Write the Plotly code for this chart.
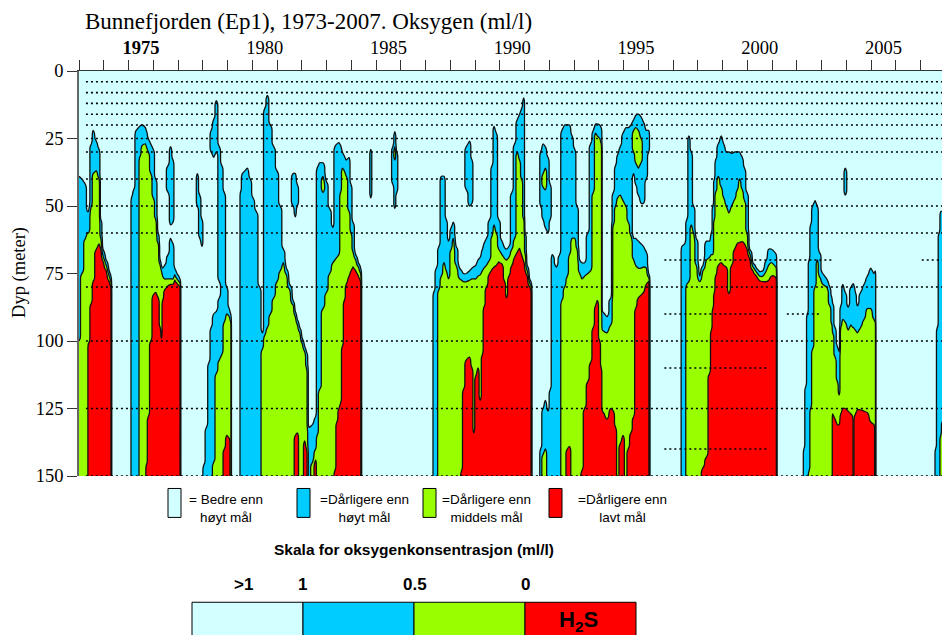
import numpy as np
import plotly.graph_objects as go

N = None

# ---- sampling columns (decimal year) and depth (m) where O2 crosses 1, 0.5 and 0 ml/l ----
T = [
    # 1973-74
    1973.00, 1973.12, 1973.26, 1973.34, 1973.38, 1973.50, 1973.57, 1973.70, 1973.81, 1973.88, 1973.97, 1974.10, 1974.22, 1974.29, 1974.33,
    # 1975-77
    1975.08, 1975.12, 1975.21, 1975.31, 1975.40, 1975.45, 1975.56, 1975.68, 1975.72, 1975.80, 1975.90, 1976.00, 1976.10, 1976.20, 1976.28,
    1976.33, 1976.38, 1976.46, 1976.60, 1976.70, 1976.80, 1976.87, 1976.96, 1977.08, 1977.12,
    # 1977-79
    1977.70, 1977.78, 1977.88, 1977.97, 1978.04, 1978.15, 1978.25, 1978.34, 1978.44, 1978.55, 1978.67, 1978.77, 1978.87, 1978.97, 1979.07,
    1979.13, 1979.17,
    # 1979-82
    1979.49, 1979.52, 1979.60, 1979.70, 1979.80, 1979.92, 1980.03, 1980.16, 1980.30, 1980.41, 1980.50, 1980.61, 1980.73, 1980.87, 1981.00,
    1981.13, 1981.26, 1981.38, 1981.51, 1981.65, 1981.74, 1981.82, 1981.92, 1982.02, 1982.12, 1982.19, 1982.29, 1982.43, 1982.56,
    # 1982-84
    1982.62, 1982.72, 1982.86, 1983.00, 1983.13, 1983.26, 1983.34, 1983.42, 1983.50, 1983.57, 1983.64, 1983.72, 1983.80, 1983.91, 1983.99,
    1984.07, 1984.18, 1984.29, 1984.38, 1984.43,
    # 1984-86
    1984.71, 1984.79, 1984.87, 1985.58, 1985.68, 1985.76, 1985.84, 1985.92,
    # 1987-91
    1987.275, 1987.33, 1987.44, 1987.54, 1987.64, 1987.75, 1987.84, 1987.93, 1988.04, 1988.12, 1988.24, 1988.38, 1988.46, 1988.53, 1988.65,
    1988.78, 1988.88, 1988.95, 1989.03, 1989.12, 1989.21, 1989.30, 1989.36, 1989.46, 1989.59, 1989.69, 1989.77, 1989.86, 1989.96, 1990.09,
    1990.20, 1990.27, 1990.37, 1990.49, 1990.60, 1990.71, 1990.80, 1990.88, 1990.97, 1991.03, 1991.11, 1991.21, 1991.26, 1991.31,
    # 1991-96
    1991.585, 1991.65, 1991.75, 1991.84, 1991.95, 1992.04, 1992.12, 1992.29, 1992.42, 1992.51, 1992.62, 1992.73, 1992.82, 1992.92, 1993.03,
    1993.12, 1993.23, 1993.32, 1993.43, 1993.56, 1993.67, 1993.78, 1993.87, 1993.94, 1994.04, 1994.10, 1994.15, 1994.33, 1994.49, 1994.59,
    1994.68, 1994.76, 1994.87, 1994.98, 1995.09, 1995.19, 1995.30, 1995.41, 1995.49, 1995.60, 1995.71, 1995.81, 1995.92, 1996.02, 1996.08,
    # 1997-2001
    1997.295, 1997.36, 1997.47, 1997.56, 1997.64, 1997.74, 1997.83, 1997.94, 1998.08, 1998.21, 1998.35, 1998.48, 1998.55, 1998.61, 1998.67,
    1998.72, 1998.83, 1998.95, 1999.05, 1999.15, 1999.26, 1999.37, 1999.49, 1999.60, 1999.69, 1999.80, 1999.89, 1999.99, 2000.10, 2000.23,
    2000.37, 2000.50, 2000.63, 2000.77, 2000.86, 2000.97, 2001.10, 2001.17, 2001.21,
    # 2002-05
    2002.24, 2002.29, 2002.36, 2002.43, 2002.50, 2002.56, 2002.64, 2002.74, 2002.83, 2002.91, 2003.05, 2003.21, 2003.34, 2003.42, 2003.45,
    2003.55, 2003.64, 2003.71, 2003.78, 2003.86, 2003.96, 2004.08, 2004.19, 2004.26, 2004.29, 2004.33, 2004.37, 2004.45, 2004.58, 2004.72,
    2004.85, 2004.99, 2005.12, 2005.17, 2005.21,
    # 2007
    2007.56, 2007.61, 2007.68, 2007.75, 2007.82, 2007.87,
]

D1 = [  # top of the "< 1 ml/l" layer
    39, 40, 42, 52, 52, 27, 22, 26, 29, 55, 66, 70, 74, 76, N,
    N, 47, 44, 22, 21, 20.5, 20, 21, 22, 25, 27, 29, 40, 60, 70,
    72, 73, 72, 68, 62, 64, 73, 75, 77, N,
    N, N, N, N, 146, 132, 108, 95, 90, 89, 84, 35, 45, 80, 88,
    90, N,
    N, 45, 38, 37, 36, 40, 47, 52, 80, 97, 14, 9, 20, 28, 37,
    50, 66, 73, 79, 85, 89, 92, 95, 99, 102, 104, 132, 131, 128,
    36, 34, 34, 41, 51, 58, 28, 27, 26.5, 27.5, 30, 31.5, 33, 32, 42,
    56, 68, 71, 73, N,
    N, N, N, N, N, N, N, N,
    N, 82, 73, 65, 39, 39, 55, 63, 58, 56, 65, 73, 74, 75, 75,
    74, 73, 72.5, 72, 70, 69, 66, 64, 62, 55, 35, 20.5, 23, 55, 63,
    65.5, 66, 65, 45, 27, 18, 16, 14, 10, 60, 72, 77, 78, N,
    N, 140, 125, 122, 126, 118, 68, 72.6, 68, 22, 20, 20, 20, 24, 29,
    50, 70, 71, 71, 60, 27, 22, 19.6, 19.6, 20, 21, 89, 91, 84, 45,
    35, 31, 28, 23, 21, 21, 20, 62, 62, 63, 64, 65, 67, 75, N,
    N, 65, 64, 55, 24, 30, 50, 62, 76, 72, 63, 63, 60, 50, 40,
    33, 27, 24, 27, 30, 30, 30.5, 30, 30, 30, 32, 36, 45, 66, 71,
    73, 74.5, 74, 70, 66, 66, 67, 68, N,
    N, 140, 117, 90, 70, 57, 50, 48, 50, 67, 75, 77, 80, 84, 86,
    95, 102, 104, 87, 79, 82, 87.5, 80, 79, 78.8, 80, 82, 87, 82, 79,
    76, 73, 75, 74, N,
    N, 140, 95, 60, 52, 52,
]

D05 = [  # top of the "< 0.5 ml/l" layer
    100, 75, 62, 60, 60, 50, 38, 37, 40, 62, 68.5, 72, 76, 78, N,
    N, N, N, N, N, 32, 27.5, 27, 28, 30, 38, 47, 55, 64, 72,
    74, 76, 77, 77, 77, 77, 75.5, 77, 78.5, N,
    N, N, N, N, N, N, N, N, 145, 112, 107, 105, 93, 90, 91,
    93, N,
    N, N, N, N, N, N, N, N, N, 103, 98, 95, 90, 84, 78,
    74, 71, 75.5, 81, 86.5, 91, 94, 97, 101, 104, 110, N, 145, 140,
    135, 118, 88, 82, 75, 71, 70, 69, 68, 45, 36, 37, 39, 52, 60,
    67, 70, 72.5, 75, N,
    N, N, N, N, N, N, N, N,
    N, N, N, 81, 76, 71, 74, 77, 66, 62, 72, 77, 77.5, 78, 78,
    77.5, 77, 77, 77, 76, 75.5, 74, 73, 72, 70, 61, 57, 60, 66, 68,
    69.5, 70, 69, 66, 62, 30, 33, 40, 55, 68, 74, 78.5, 79.5, N,
    N, N, 142, 140, N, N, N, N, N, 85, 80, 76, 68, 62, 62,
    66, 75, 77, 76, 75, 74, 45, 23, 24, 25, 27, 96, 97, 94, 57,
    50, 47, 46, 48, 50, 56, 61, 70, 72, 73, 73, 72.6, 73, 76.5, N,
    N, N, N, 79, 78, 57, 60, 72, 78, 74, 70, 69, 68, 68, 55,
    45, 39, 43, 47, 50, 52.6, 50, 47.6, 44, 40, 44, 48, 60, 67.5, 72.5,
    74.5, 76, 76, 74, 72, 71, 72, 73, N,
    N, N, N, N, 148, 125, 103, 80, 70, 76, 79, 80, 87, 94, 97,
    106, 115, 120, 95, 92, 93, 96, 94, 95, 95, 95.5, 96, 97, 95, 92,
    88, 88, 92, 93, N,
    N, N, N, N, 135, 130,
]

D0 = [  # top of the H2S layer
    N, N, N, N, 101, 86, 78, 66, 64, 66, 70.5, 74, 78, 80, N,
    N, N, N, N, N, N, N, N, 146, 128, 100, 83, 82, 84, 95,
    99, 85, 81, 79.5, 79, 79, 77.5, 78.5, 80, N,
    N, N, N, N, N, N, N, N, N, N, N, N, 140, 135, 136,
    N, N,
    N, N, N, N, N, N, N, N, N, N, N, N, N, N, N,
    N, N, N, N, N, 135, 134, N, N, 137, 140, N, N, 144,
    N, N, N, N, N, N, 148, 130, 125, 123, 102, 85, 79, 76, 74,
    72.6, 74, 76, 78, N,
    N, N, N, N, N, N, N, N,
    N, N, N, N, N, N, N, N, N, N, N, N, 148, 118, 107,
    106, 110, 134, 113, 110, 122, 105, 87.5, 80, 75, 73.5, 72.6, 72, 70.7, 71.5,
    78, 84, 76, 72, 69, 67, 65.7, 68, 70.5, 74, 76, 80, 81, N,
    N, N, N, N, N, N, N, N, N, N, N, 140, 139, N, N,
    N, N, 148, 125, 115, 108, 95, 87, 85, 100, 110, 126, 129, 125, 126,
    132, N, 138, 135, N, 140, 134, 128, 88, 84, 83, 82, 79, 78, N,
    N, N, N, N, N, N, N, N, N, 147, 143, 112, 96, 88, 82,
    76, 72, 71, 72, 72.6, 82.5, 72, 66, 63.8, 63.5, 63.2, 64, 66, 69.5, 74,
    76, 77.5, 78, 78, 77.6, 76, 76, 77, N,
    N, N, N, N, N, N, N, N, N, N, N, N, N, N, 127,
    129, 131, 131, 127, 125, 125, 126, 127, 128, N, 128, 127, 125.5, 125.5, 126,
    126.5, 130, 131, N, N,
    N, N, N, N, N, N,
]

# isolated low-oxygen pockets (< 1 ml/l) above the main layer
BLOB_T = [1976.60, 1976.70, 1976.80, 1977.78, 1977.88, 1977.97, 1978.34, 1978.44, 1978.55, 1978.67,
          1981.65, 1981.74, 1981.82, 1984.79, 1985.68, 1985.76, 1985.84, 1988.65, 1988.78, 1988.88,
          1991.65, 1991.75, 1991.84, 1991.95, 1992.04, 1995.41, 1995.49, 1995.60, 1995.71, 1995.81,
          1995.92, 1996.02, 2003.96]
BLOB_TOP = [35, 28, 33, 38, 46, 55, 22, 18, 11, 28,
            38, 38, 42, 29, 28, 22.5, 30, 28, 26, 33,
            30, 27, 28, 32, 42, 18, 16.5, 16, 17, 19,
            22, 22, 36]
BLOB_BOT = [45, 57, 56, 50, 62, 65, 30, 32, 30, 78,
            50, 54, 50, 47, 42, 51, 45, 44, 50, 49,
            50, 55, 58, 60, 55, 38, 42, 46, 49, 49,
            40, 30, 46]
# "< 0.5 ml/l" cores inside those pockets
CORE_T = [1982.86, 1985.76, 1991.75, 1991.84, 1995.41, 1995.49, 1995.60, 1995.71]
CORE_TOP = [39, 28, 38, 36, 22, 21, 22, 25]
CORE_BOT = [45, 33, 43, 44, 30, 34, 36, 34]

SAMPLE_DEPTHS = [4, 8, 12, 16, 20, 25, 30, 40, 50, 60, 80, 100, 125, 150]
PART_DEPTHS = [70, 90, 110, 140, 90, 70]
PART_START = [1996.65, 1996.65, 1996.65, 1996.65, 2001.60, 2007.05]
PART_END = [2003.40, 2000.77, 2000.77, 2000.77, 2003.00, 2007.87]

YEAR_TICKS = list(range(1973, 2008))
YEAR_LABELS = [1975, 1980, 1985, 1990, 1995, 2000, 2005]
DEPTH_TICKS = [0, 25, 50, 75, 100, 125, 150]
LEGEND_LABELS = ["= Bedre enn<br>høyt mål", "=Dårligere enn<br>høyt mål",
                 "=Dårligere enn<br>middels mål", "=Dårligere enn<br>lavt mål"]
SCALE_LABELS = [">1", "1", "0.5", "0"]
COLORS = ["#D2FFFF", "#00CCFF", "#99FF00", "#FF0000"]

n = len(T)
assert len(D1) == n and len(D05) == n and len(D0) == n, (n, len(D1), len(D05), len(D0))
assert all(T[i] < T[i + 1] for i in range(n - 1))

# ---- build the gridded field (class value 3.5 = cyan ... 0.5 = red) ----
depth = np.arange(0, 151, 1.0)
W = 3.0


def ramp(th):
    return np.clip(0.5 + (depth - th) / W, 0.0, 1.0)


tkey = {round(t, 3): j for j, t in enumerate(T)}
blob = {}
for t, a, b in zip(BLOB_T, BLOB_TOP, BLOB_BOT):
    blob[tkey[round(t, 3)]] = (a, b)
core = {}
for t, a, b in zip(CORE_T, CORE_TOP, CORE_BOT):
    core[tkey[round(t, 3)]] = (a, b)

Z = np.zeros((len(depth), n))
for j in range(n):
    z = np.full(depth.shape, 3.5)
    for th in (D1[j], D05[j], D0[j]):
        if th is not None:
            z = z - ramp(th)
    if j in blob:
        a, b = blob[j]
        z = z - (ramp(a) - ramp(b))
    if j in core:
        a, b = core[j]
        z = z - (ramp(a) - ramp(b))
    Z[:, j] = z

XR = [1973.0, 1973.0 + 863 / 24.75]

fig = go.Figure()
fig.add_trace(go.Contour(
    x=T, y=depth, z=Z, autocontour=False,
    contours=dict(start=1, end=3, size=1, coloring="fill", showlines=True),
    colorscale=[[0, COLORS[3]], [1 / 3, COLORS[2]], [2 / 3, COLORS[1]], [1, COLORS[0]]],
    line=dict(color="#111111", width=1.3, smoothing=0.7),
    showscale=False, hoverinfo="skip",
))

# sampling depth lines (dotted)
lx, ly = [], []
for d in SAMPLE_DEPTHS:
    lx += [1973.28, XR[1], None]
    ly += [d, d, None]
for d, a, b in zip(PART_DEPTHS, PART_START, PART_END):
    lx += [a, b, None]
    ly += [d, d, None]
fig.add_trace(go.Scatter(x=lx, y=ly, xaxis="x2", yaxis="y", mode="lines",
                         line=dict(color="black", width=1.6, dash="2px,3px"),
                         hoverinfo="skip", showlegend=False))

serif = "Liberation Serif"
sans = "Liberation Sans"

fig.update_layout(
    width=942, height=635,
    margin=dict(l=79, r=0, t=70.7, b=158.5),
    paper_bgcolor="white", plot_bgcolor="white", showlegend=False,
    xaxis=dict(range=XR, side="top", tickvals=YEAR_TICKS, ticks="outside", ticklen=10,
               tickwidth=1, tickcolor="#333", showticklabels=False, showline=True,
               linecolor="#333", linewidth=1.2, showgrid=False, zeroline=False),
    xaxis2=dict(range=XR, overlaying="x", side="top", anchor="y",
                tickvals=[y + 0.5 for y in YEAR_LABELS],
                ticktext=[("<b>%d</b>" % y) if y == 1975 else str(y) for y in YEAR_LABELS],
                ticks="outside", ticklen=9, tickcolor="rgba(0,0,0,0)",
                tickfont=dict(family=serif, size=18.5, color="black"),
                showline=False, showgrid=False, zeroline=False),
    yaxis=dict(range=[150, 0], tickvals=DEPTH_TICKS, ticks="outside", ticklen=10,
               tickwidth=1, tickcolor="#333", showline=True, linecolor="#666", linewidth=1.5,
               tickfont=dict(family=serif, size=18.5, color="black"),
               showgrid=False, zeroline=False),
)


def px(x):
    return (x - 79) / 863.0


def py(y):
    return (476.5 - y) / 405.8


ann = []
shapes = []
ann.append(dict(text="Bunnefjorden (Ep1), 1973-2007. Oksygen (ml/l)", x=px(83), y=py(21),
                xref="paper", yref="paper", xanchor="left", yanchor="middle", showarrow=False,
                font=dict(family=serif, size=23, color="black")))
ann.append(dict(text="Dyp (meter)", x=px(20), y=py(272), xref="paper", yref="paper",
                textangle=-90, xanchor="center", yanchor="middle", showarrow=False,
                font=dict(family=serif, size=18.5, color="black")))

box_x = [168, 297, 423, 549]
text_x = [226, 364, 486, 622]
for bx, tx, lab, col in zip(box_x, text_x, LEGEND_LABELS, COLORS):
    shapes.append(dict(type="rect", xref="paper", yref="paper", x0=px(bx), x1=px(bx + 13),
                       y0=py(489), y1=py(518), fillcolor=col, line=dict(color="black", width=1)))
    ann.append(dict(text=lab, x=px(tx), y=py(509), xref="paper", yref="paper", xanchor="center",
                    yanchor="middle", align="center", showarrow=False,
                    font=dict(family=sans, size=13.5, color="black")))

ann.append(dict(text="<b>Skala for oksygenkonsentrasjon (ml/l)</b>", x=px(413.5), y=py(550),
                xref="paper", yref="paper", xanchor="center", yanchor="middle", showarrow=False,
                font=dict(family=sans, size=15.5, color="black")))
for lx_, lab in zip([243, 302, 415, 525], SCALE_LABELS):
    ann.append(dict(text="<b>%s</b>" % lab, x=px(lx_), y=py(585), xref="paper", yref="paper",
                    xanchor="center", yanchor="middle", showarrow=False,
                    font=dict(family=sans, size=17, color="black")))
seg = [192, 303, 414, 525, 636]
for i, col in enumerate(COLORS):
    shapes.append(dict(type="rect", xref="paper", yref="paper", x0=px(seg[i]), x1=px(seg[i + 1]),
                       y0=py(603), y1=py(645), fillcolor=col, line=dict(color="black", width=1)))
ann.append(dict(text="<b>H<sub>2</sub>S</b>", x=px(578), y=py(622), xref="paper", yref="paper",
                xanchor="center", yanchor="middle", showarrow=False,
                font=dict(family=sans, size=22, color="black")))

fig.update_layout(annotations=ann, shapes=shapes)
fig.write_html("out.html", config={"displayModeBar": False},
               post_script="document.body.style.margin='0px';document.body.style.overflow='hidden';")
